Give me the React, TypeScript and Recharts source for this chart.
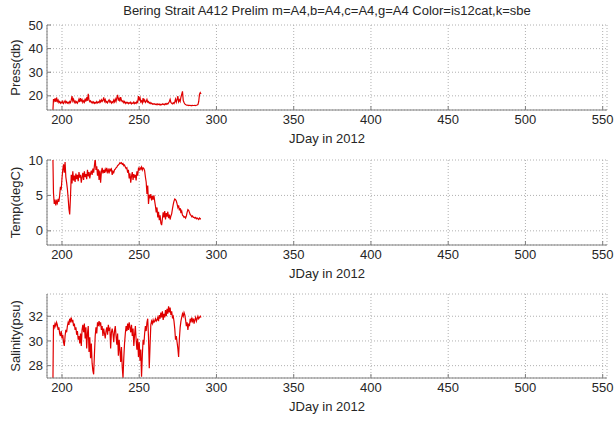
import { LineChart, Line, XAxis, YAxis, CartesianGrid } from "recharts";

// sample days (JDay 2012), shared by the three series
const jday = [
  194, 194.5, 195, 195.5, 196, 196.5, 197, 197.5, 198, 198.5,
  199, 199.5, 200, 200.5, 201, 201.5, 202, 202.5, 203, 203.5,
  204, 204.5, 205, 205.5, 206, 206.5, 207, 207.5, 208, 208.5,
  209, 209.5, 210, 210.5, 211, 211.5, 212, 212.5, 213, 213.5,
  214, 214.5, 215, 215.5, 216, 216.5, 217, 217.5, 218, 218.5,
  219, 219.5, 220, 220.5, 221, 221.5, 222, 222.5, 223, 223.5,
  224, 224.5, 225, 225.5, 226, 226.5, 227, 227.5, 228, 228.5,
  229, 229.5, 230, 230.5, 231, 231.5, 232, 232.5, 233, 233.5,
  234, 234.5, 235, 235.5, 236, 236.5, 237, 237.5, 238, 238.5,
  239, 239.5, 240, 240.5, 241, 241.5, 242, 242.5, 243, 243.5,
  244, 244.5, 245, 245.5, 246, 246.5, 247, 247.5, 248, 248.5,
  249, 249.5, 250, 250.5, 251, 251.5, 252, 252.5, 253, 253.5,
  254, 254.5, 255, 255.5, 256, 256.5, 257, 257.5, 258, 258.5,
  259, 259.5, 260, 260.5, 261, 261.5, 262, 262.5, 263, 263.5,
  264, 264.5, 265, 265.5, 266, 266.5, 267, 267.5, 268, 268.5,
  269, 269.5, 270, 270.5, 271, 271.5, 272, 272.5, 273, 273.5,
  274, 274.5, 275, 275.5, 276, 276.5, 277, 277.5, 278, 278.5,
  279, 279.5, 280, 280.5, 281, 281.5, 282, 282.5, 283, 283.5,
  284, 284.5, 285, 285.5, 286, 286.5, 287, 287.5, 288, 288.5,
  289, 289.5, 290,
];

const pressDb = [
  12, 18.6, 17.8, 18.9, 17.4, 19.3, 17.6, 18.2, 17.1, 17.6,
  16.9, 17.4, 17.0, 17.7, 16.8, 17.3, 17.9, 17.0, 17.5, 16.9,
  17.3, 16.8, 17.6, 17.1, 18.2, 19.9, 17.8, 18.6, 17.2, 17.8,
  17.0, 17.5, 16.9, 17.6, 18.6, 17.4, 19.0, 17.8, 18.4, 17.2,
  17.9, 17.3, 18.8, 17.6, 19.4, 17.9, 20.9, 18.2, 17.5, 17.9,
  17.1, 17.5, 16.9, 17.4, 16.8, 17.2, 16.9, 17.6, 17.0, 17.4,
  17.1, 18.0, 17.4, 18.3, 17.6, 18.1, 19.3, 17.7, 18.4, 17.2,
  17.6, 17.0, 17.8, 18.3, 17.3, 17.8, 16.9, 17.5, 17.1, 18.2,
  17.4, 18.6, 17.6, 19.1, 20.4, 18.0, 18.9, 17.6, 19.5, 18.1,
  17.5, 17.9, 17.1, 17.6, 16.8, 17.3, 16.9, 17.2, 16.7, 17.1,
  16.8, 17.3, 16.6, 17.0, 16.8, 17.4, 16.7, 17.1, 16.8, 17.6,
  17.2, 19.9, 18.4, 19.2, 17.4, 17.9, 17.0, 19.0, 17.6, 18.3,
  17.2, 17.6, 18.5, 17.3, 17.6, 16.9, 17.2, 16.7, 16.9, 16.5,
  16.7, 16.4, 16.6, 16.3, 16.5, 16.2, 16.6, 16.3, 16.5, 16.1,
  16.4, 16.2, 16.6, 16.3, 16.5, 16.2, 16.7, 16.4, 16.8, 16.5,
  17.0, 17.6, 18.5, 17.2, 16.8, 16.6, 17.1, 16.7, 17.4, 18.6,
  17.3, 18.4, 19.9, 17.5, 18.3, 17.6, 19.4, 20.6, 21.9, 18.0,
  17.2, 16.6, 16.3, 16.1, 16.0, 16.1, 15.9, 16.0, 15.9, 16.0,
  15.8, 16.0, 15.9, 15.9, 16.0, 15.9, 16.0, 16.1, 16.3, 17.5,
  20.6, 21.4, 20.8,
];

const tempC = [
  12, 5.3, 3.8, 4.4, 3.6, 4.2, 3.9, 4.5, 4.1, 5.0,
  6.2, 5.8, 7.4, 8.6, 9.4, 8.2, 9.7, 7.6, 6.8, 5.9,
  4.6, 3.1, 2.3, 4.8, 7.9, 6.7, 8.4, 7.1, 7.8, 6.9,
  8.1, 7.3, 7.9, 7.0, 8.3, 7.5, 7.9, 6.8, 7.6, 8.2,
  7.2, 8.4, 7.6, 8.0, 7.3, 8.6, 7.7, 8.3, 7.4, 8.1,
  8.5, 7.9, 8.8, 8.2, 9.2, 10.2, 8.6, 9.1, 7.8, 8.7,
  7.2, 8.5, 6.8, 8.3, 8.9, 8.1, 8.6, 8.2, 8.7, 8.4,
  8.9, 8.3, 8.6, 8.1, 8.8, 8.5, 8.7, 7.9, 8.4, 8.2,
  8.6, 8.7, 8.9, 9.0, 9.2, 9.3, 9.4, 9.6, 9.5, 9.6,
  9.4, 9.5, 9.2, 9.3, 9.0, 8.8, 8.9, 8.2, 8.6, 7.4,
  8.1, 6.8, 7.7, 8.3, 7.2, 8.0, 7.5, 7.9, 7.1, 8.4,
  7.8, 8.8, 8.6, 8.9, 8.7, 9.0, 8.6, 8.9, 8.8, 8.5,
  7.6, 6.9, 5.2, 6.4, 3.8, 5.1, 4.6, 5.2, 4.3, 4.9,
  4.4, 5.0, 4.2, 3.5, 2.6, 3.3, 1.9, 2.7, 1.5, 2.2,
  1.1, 0.8, 1.7, 2.6, 1.9, 2.8, 1.6, 2.5, 2.0, 2.7,
  1.8, 2.3, 1.6, 2.1, 2.4, 3.1, 3.7, 4.2, 4.5, 4.4,
  4.2, 3.8, 3.3, 3.6, 2.9, 3.2, 2.5, 2.8, 2.2, 2.1,
  1.9, 2.0, 1.8, 2.1, 2.6, 3.0, 2.9, 2.6, 2.3, 2.2,
  2.0, 2.1, 1.9, 1.9, 1.8, 1.9, 1.7, 1.8, 1.7, 1.6,
  1.8, 1.7, 1.7,
];

const salPsu = [
  25, 31.3, 31.1, 31.4, 31.2, 31.5, 31.3, 30.9, 31.1, 30.6,
  30.4, 30.8, 30.2, 30.5, 29.9, 29.6, 30.4, 30.9, 30.7, 31.2,
  31.5, 31.3, 31.8, 31.6, 31.9, 31.5, 31.7, 31.2, 31.4, 30.9,
  31.1, 30.5, 30.8, 30.1, 30.4, 29.8, 30.6, 29.6, 30.9, 31.3,
  30.7, 31.4, 30.2, 31.1, 29.4, 30.6, 31.2, 29.1, 30.3, 28.6,
  29.8, 28.2, 27.6, 27.3, 28.9, 30.4, 31.1, 30.6, 31.5, 31.2,
  31.6, 31.3, 31.5, 30.9, 31.2, 30.4, 31.0, 30.6, 30.2, 30.8,
  31.1, 30.5, 31.3, 30.9, 31.0, 29.4, 30.7, 31.0, 30.6, 29.9,
  30.8, 31.2, 30.4, 29.7, 30.6, 28.8, 30.1, 29.2, 28.3, 29.5,
  27.9, 27.0, 28.6, 29.8, 30.6, 31.2, 30.8, 31.4, 30.9, 31.5,
  31.1, 30.7, 31.3, 30.4, 31.0, 29.6, 30.5, 31.2, 30.1, 29.3,
  30.2, 28.7, 29.9, 28.4, 29.3, 27.1, 28.8, 30.1, 29.7, 30.6,
  31.2, 30.8, 31.5, 31.8, 30.3, 27.8, 29.6, 31.3, 31.6, 31.4,
  31.7, 31.5, 31.6, 31.8, 31.6, 31.7, 31.9, 31.6, 32.1, 31.8,
  32.3, 31.9, 32.4, 31.7, 32.2, 31.9, 32.5, 32.0, 32.6, 32.2,
  32.8, 32.3, 32.7, 32.1, 32.4, 31.9, 32.0, 31.6, 31.0, 30.1,
  30.4, 29.9, 29.4, 28.7, 30.2, 31.1, 31.6, 31.9, 32.2, 32.0,
  32.3, 32.1, 31.7, 31.2, 31.5, 30.9, 31.4, 31.2, 31.8, 31.5,
  31.9, 31.6, 31.8, 31.4, 31.7, 31.9, 31.6, 31.8, 32.0, 31.8,
  31.9, 32.0, 31.9,
];

const dayTicks = [200, 250, 300, 350, 400, 450, 500, 550];
const pressTicks = [20, 30, 40, 50];
const tempTicks = [0, 5, 10];
const salTicks = [28, 30, 32];

const FONT = '"Liberation Sans", Arial, Helvetica, sans-serif';
const AXIS = "#7f7f7f";
const TXT = "#262626";
const RED = "#e00000";

const tickStyle = { fontSize: 13, fill: TXT, fontFamily: FONT };

const yLabel = (text: string) => (props: any) => {
  const vb = props.viewBox || {};
  const cx = 15;
  const cy = vb.y + vb.height / 2;
  return (
    <text
      x={cx}
      y={cy}
      transform={`rotate(-90, ${cx}, ${cy})`}
      textAnchor="middle"
      dominantBaseline="central"
      fontSize={13}
      fill={TXT}
      fontFamily={FONT}
    >
      {text}
    </text>
  );
};

interface PanelProps {
  top: number;
  plotHeight: number;
  values: number[];
  yDomain: [number, number];
  yTicks: number[];
  label: string;
}

const Panel = ({ top, plotHeight, values, yDomain, yTicks, label }: PanelProps) => {
  const data = jday.map((d, i) => ({ day: d, v: values[i] }));
  return (
    <div style={{ position: "absolute", left: 0, top }}>
      <LineChart
        width={616}
        height={25 + plotHeight + 40}
        data={data}
        margin={{ top: 25, right: 9, bottom: 0, left: 0 }}
      >
        <CartesianGrid
          xAxisId="bottom"
          yAxisId="left"
          stroke="#b0b0b0"
          strokeDasharray="1 2"
        />
        <XAxis
          xAxisId="bottom"
          dataKey="day"
          type="number"
          domain={[190.3, 552.8]}
          ticks={dayTicks}
          allowDataOverflow
          height={40}
          stroke={AXIS}
          tickSize={-4}
          tickMargin={9}
          tick={tickStyle}
          label={{
            value: "JDay in 2012",
            position: "insideBottom",
            offset: 7,
            fontSize: 13,
            fill: TXT,
            fontFamily: FONT,
          }}
        />
        <XAxis
          xAxisId="top"
          orientation="top"
          dataKey="day"
          type="number"
          domain={[190.3, 552.8]}
          ticks={dayTicks}
          allowDataOverflow
          height={0}
          stroke={AXIS}
          tickSize={-4}
          tick={false}
        />
        <YAxis
          yAxisId="left"
          type="number"
          domain={yDomain}
          ticks={yTicks}
          allowDataOverflow
          width={47}
          stroke={AXIS}
          tickSize={-4}
          tickMargin={8}
          tick={tickStyle}
          label={{ content: yLabel(label) }}
        />
        <YAxis
          yAxisId="right"
          orientation="right"
          type="number"
          domain={yDomain}
          ticks={yTicks}
          allowDataOverflow
          width={0}
          stroke={AXIS}
          tickSize={-4}
          tick={false}
        />
        <Line
          xAxisId="bottom"
          yAxisId="left"
          type="linear"
          dataKey="v"
          stroke={RED}
          strokeWidth={1.2}
          dot={false}
          isAnimationActive={false}
        />
      </LineChart>
    </div>
  );
};

export default function App() {
  return (
    <div
      style={{
        position: "absolute",
        left: 0,
        top: 0,
        width: 616,
        height: 421,
        background: "#fff",
        fontFamily: FONT,
      }}
    >
      <div
        style={{
          position: "absolute",
          left: 327,
          top: 3,
          transform: "translateX(-50%)",
          whiteSpace: "nowrap",
          fontSize: 13,
          lineHeight: "15px",
          color: TXT,
        }}
      >
        Bering Strait A412 Prelim m=A4,b=A4,c=A4,g=A4 Color=is12cat,k=sbe
      </div>
      <Panel top={0} plotHeight={85} values={pressDb} yDomain={[14, 50]} yTicks={pressTicks} label="Press(db)" />
      <Panel top={135} plotHeight={85} values={tempC} yDomain={[-2, 10]} yTicks={tempTicks} label="Temp(degC)" />
      <Panel top={269} plotHeight={84} values={salPsu} yDomain={[27, 33.8]} yTicks={salTicks} label="Salinity(psu)" />
    </div>
  );
}
